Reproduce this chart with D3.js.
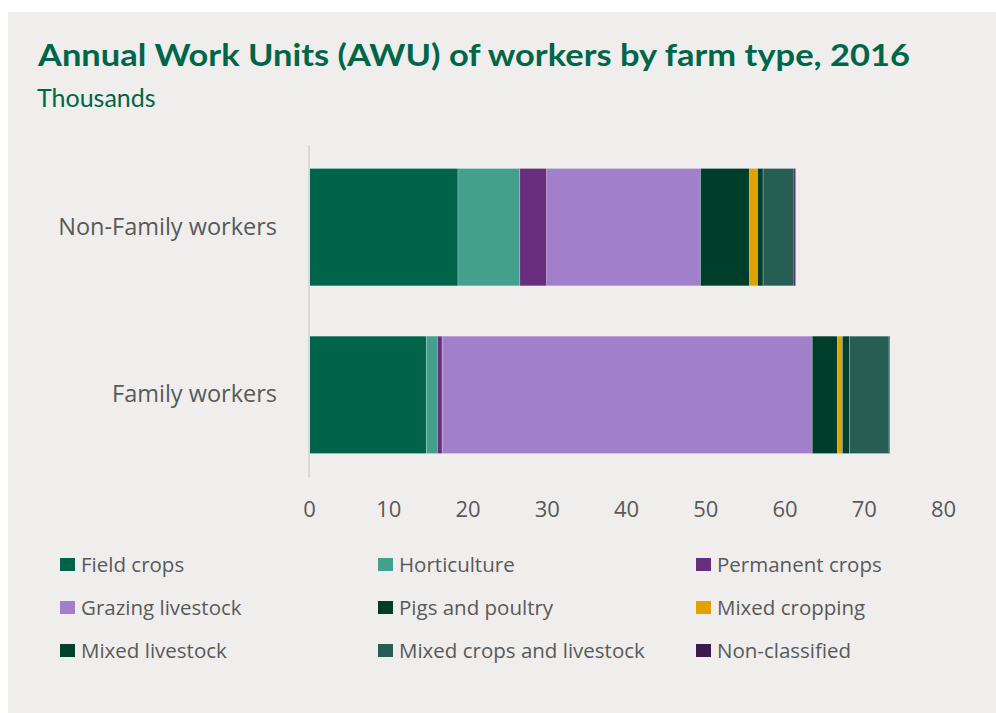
<!DOCTYPE html>
<html>
<head>
<meta charset="utf-8">
<script src="https://cdn.jsdelivr.net/npm/d3@7"></script>
<style>
  body { margin: 0; background: #fff; }
  svg { display: block; }
</style>
</head>
<body>
<script>
// categories (top to bottom) and farm types
var categories = ['Non-Family workers', 'Family workers'];
var farmTypes = ['Field crops', 'Horticulture', 'Permanent crops', 'Grazing livestock',
    'Pigs and poultry', 'Mixed cropping', 'Mixed livestock', 'Mixed crops and livestock', 'Non-classified'];

// values in thousands of AWU, one per farm type
var nonFamilyValues = [18.8, 7.8, 3.4, 19.4, 6.2, 1.0, 0.7, 3.9, 0.2];
var familyValues = [14.8, 1.4, 0.6, 46.7, 3.2, 0.6, 0.9, 5.0, 0.1];

var xTicks = [0, 10, 20, 30, 40, 50, 60, 70, 80];

var colors = ['#00644a', '#42a08c', '#682d7c', '#a27fca', '#003e2c', '#e1a100', '#00402d', '#265e54', '#3d1a4e'];

var width = 996, height = 713;
var margin = {top: 145, bottom: 236, left: 309, right: 54};

var svg = d3.select('body').append('svg')
    .attr('width', width)
    .attr('height', height);

// grey panel
svg.append('rect')
    .attr('x', 8).attr('y', 12)
    .attr('width', width - 8).attr('height', height - 12)
    .attr('fill', '#efeeec');

// title
svg.append('text')
    .attr('x', 38).attr('y', 66)
    .attr('font-family', 'Lato, sans-serif')
    .attr('font-weight', 'bold')
    .attr('font-size', 30)
    .attr('fill', '#00664a')
    .attr('textLength', 872)
    .attr('lengthAdjust', 'spacingAndGlyphs')
    .text('Annual Work Units (AWU) of workers by farm type, 2016');

svg.append('text')
    .attr('x', 37).attr('y', 107)
    .attr('font-family', 'Lato, sans-serif')
    .attr('font-size', 25)
    .attr('fill', '#00664a')
    .text('Thousands');

var xScale = d3.scaleLinear().domain([0, 80]).range([margin.left, 943]);
var yScale = d3.scaleBand().domain(categories)
    .range([margin.top, height - margin.bottom])
    .paddingInner(0.3).paddingOuter(0.14);

// stack the data
var rows = categories.map(function(c, i) {
    var vals = i === 0 ? nonFamilyValues : familyValues;
    var row = {category: c};
    farmTypes.forEach(function(t, j) { row[t] = vals[j]; });
    return row;
});
var series = d3.stack().keys(farmTypes)(rows);

svg.append('g').selectAll('g')
    .data(series)
    .enter().append('g')
    .attr('fill', function(d, i) { return colors[i]; })
    .selectAll('rect')
    .data(function(d) { return d; })
    .enter().append('rect')
    .attr('x', function(d) { return xScale(d[0]); })
    .attr('width', function(d) { return xScale(d[1]) - xScale(d[0]); })
    .attr('y', function(d) { return yScale(d.data.category); })
    .attr('height', yScale.bandwidth())
    .attr('stroke', 'rgba(255,255,255,0.35)')
    .attr('stroke-width', 0.7);

// vertical axis line
svg.append('line')
    .attr('x1', margin.left).attr('x2', margin.left)
    .attr('y1', margin.top).attr('y2', height - margin.bottom)
    .attr('stroke', '#d9d9d9')
    .attr('stroke-width', 2);

// category labels
var yAxis = svg.append('g')
    .attr('transform', 'translate(' + margin.left + ',0)')
    .call(d3.axisLeft(yScale).tickSize(0).tickPadding(32));
yAxis.select('.domain').remove();
yAxis.selectAll('text')
    .attr('font-family', '"Open Sans", sans-serif')
    .attr('font-size', 23.5)
    .attr('fill', '#595959');

// x tick labels
var xAxis = svg.append('g')
    .attr('transform', 'translate(0,' + (height - margin.bottom) + ')')
    .call(d3.axisBottom(xScale).tickValues(xTicks).tickSize(0).tickPadding(24));
xAxis.select('.domain').remove();
xAxis.selectAll('text')
    .attr('font-family', '"Open Sans", sans-serif')
    .attr('font-size', 22)
    .attr('fill', '#595959');

// legend, 3 columns
var colX = [60, 378, 696], rowY = [565, 608, 651];
var legend = svg.append('g').selectAll('g')
    .data(farmTypes)
    .enter().append('g')
    .attr('transform', function(d, i) {
        return 'translate(' + colX[i % 3] + ',' + rowY[Math.floor(i / 3)] + ')';
    });
legend.append('rect')
    .attr('x', 0).attr('y', -7)
    .attr('width', 15).attr('height', 13)
    .attr('fill', function(d, i) { return colors[i]; });
legend.append('text')
    .attr('x', 21).attr('y', 0)
    .attr('dy', '0.35em')
    .attr('font-family', '"Open Sans", sans-serif')
    .attr('font-size', 20.5)
    .attr('fill', '#595959')
    .text(function(d) { return d; });
</script>
</body>
</html>
